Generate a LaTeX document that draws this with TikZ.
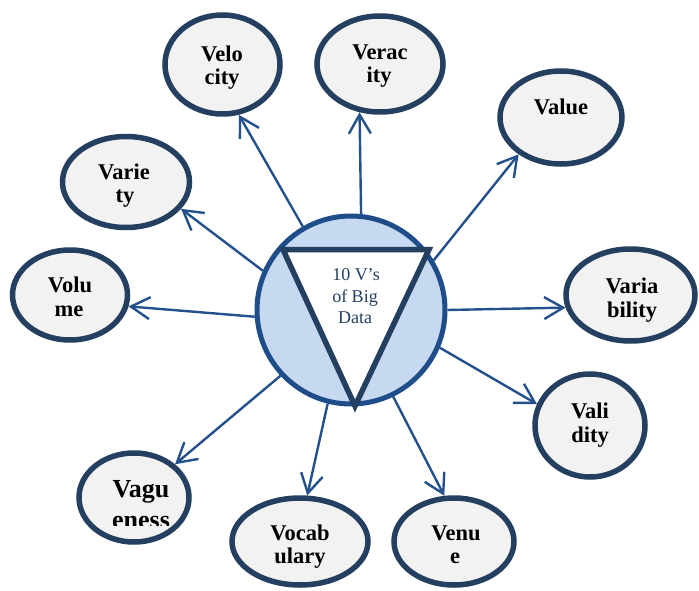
\documentclass[tikz,border=0pt]{standalone}
\usepackage{fontspec}
\setmainfont{Liberation Serif}
\usetikzlibrary{shapes.geometric,arrows.meta}
\definecolor{ringc}{HTML}{243F60}
\definecolor{ellfill}{HTML}{F2F2F2}
\definecolor{circc}{HTML}{1F4D89}
\definecolor{circfill}{HTML}{C6D9F1}
\definecolor{arrc}{HTML}{24508C}
\definecolor{txtc}{HTML}{243F60}
\begin{document}
\begin{tikzpicture}[x=1pt,y=-1pt,
  vnode/.style={ellipse, draw=ringc, fill=ellfill, line width=5.5pt, inner sep=0pt},
  lbl/.style={font=\bfseries\fontsize{22.5}{24}\selectfont, anchor=base, inner sep=0pt},
  biglbl/.style={font=\bfseries\fontsize{26}{30}\selectfont, anchor=base, inner sep=0pt},
  ctr/.style={font=\fontsize{18}{21}\selectfont, text=txtc, anchor=base, inner sep=0pt},
  arr/.style={draw=arrc, line width=2.4pt, -{Straight Barb[length=19pt,width=22pt]}}]
\useasboundingbox (0,0) rectangle (699,591);
\fill[white] (0,0) rectangle (699,591);

% outer ellipses
\node[vnode, minimum width=115pt, minimum height=99pt] (vel) at (222.5,64.5) {};
\node[vnode, minimum width=126pt, minimum height=96pt] (ver) at (380,64) {};
\node[vnode, minimum width=122pt, minimum height=93pt] (val) at (561,117.5) {};
\node[vnode, minimum width=127pt, minimum height=91pt] (var) at (126,182) {};
\node[vnode, minimum width=115pt, minimum height=90pt] (vol) at (70,295) {};
\node[vnode, minimum width=129pt, minimum height=92pt] (vab) at (630.5,295) {};
\node[vnode, minimum width=110pt, minimum height=103pt] (vad) at (590,425.5) {};
\node[vnode, minimum width=110pt, minimum height=89pt] (vag) at (134,497.5) {};
\node[vnode, minimum width=136pt, minimum height=87pt] (voc) at (300,541.5) {};
\node[vnode, minimum width=120pt, minimum height=87pt] (ven) at (454,541.5) {};

% labels
\node[lbl] (velA) at (222,62) {Velo};
\node[lbl] (velB) at (222,85) {city};
\node[lbl] (verA) at (380,60) {Verac};
\node[lbl] (verB) at (379,83) {ity};
\node[lbl] (valA) at (561,115) {Value};
\node[lbl] (varA) at (124,179) {Varie};
\node[lbl] (varB) at (125,202) {ty};
\node[lbl] (volA) at (70,292) {Volu};
\node[lbl] (volB) at (69,316) {me};
\node[lbl] (vabA) at (632,293) {Varia};
\node[lbl] (vabB) at (632,317) {bility};
\node[lbl] (vadA) at (590,418) {Vali};
\node[lbl] (vadB) at (590,442) {dity};
\node[lbl] (vocA) at (300,540) {Vocab};
\node[lbl] (vocB) at (300,563) {ulary};
\node[lbl] (venA) at (456,540) {Venu};
\node[lbl] (venB) at (455,563) {e};
\node[biglbl] (vagA) at (141,497) {Vagu};
\begin{scope}
  \clip (0,0) rectangle (699,525);
  \node[biglbl] (vagB) at (141,528) {eness};
\end{scope}

% central circle and triangle
\node[circle, draw=circc, fill=circfill, line width=5pt, minimum size=188pt, inner sep=0pt] (c) at (351,310) {};
\draw[draw=ringc, fill=white, line width=5.5pt, line join=miter] (283,249.5) -- (429,249.5) -- (355,406) -- cycle;
\node[ctr] (t1) at (356,280) {10 V’s};
\node[ctr] (t2) at (355,302) {of Big};
\node[ctr] (t3) at (355,323) {Data};

% arrows
\draw[arr] (c.120.4) -- (vel.-72.2);
\draw[arr] (c.84.2) -- (ver.-113.8);
\draw[arr] (c.31.5) -- (val.-139.3);
\draw[arr] (c.156.9) -- (var.-26.6);
\draw[arr] (c.184.8) -- (vol.-11.8);
\draw[arr] (c.0.6) -- (vab.191.5);
\draw[arr] (c.-23) -- (vad.158.9);
\draw[arr] (c.-64) -- (ven.102.5);
\draw[arr] (c.-104.6) -- (voc.81.8);
\draw[arr] (c.-137.8) -- (vag.39.3);
\end{tikzpicture}
\end{document}
